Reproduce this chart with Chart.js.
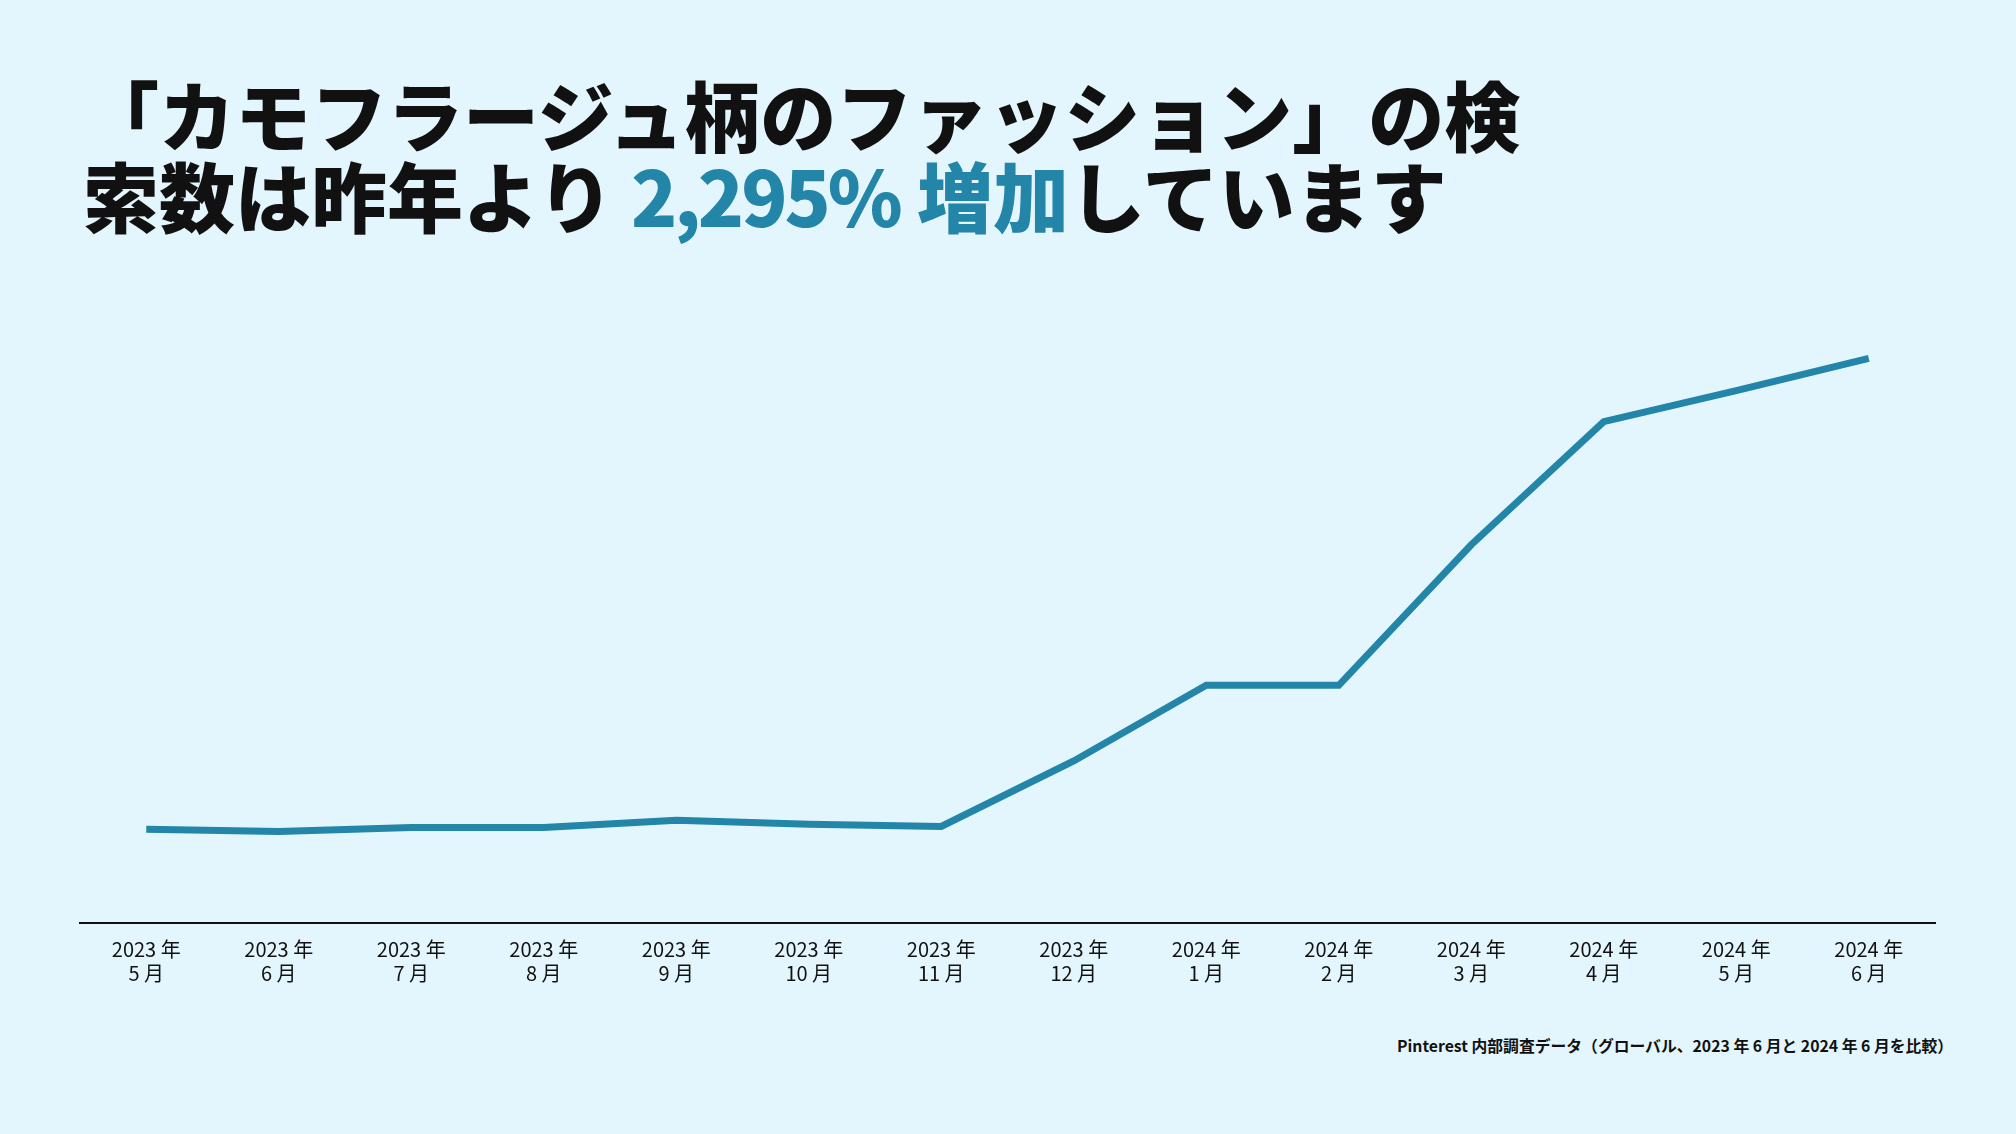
<!DOCTYPE html>
<html lang="ja">
<head>
<meta charset="utf-8">
<title>カモフラージュ柄のファッション 検索数</title>
<script src="https://cdn.jsdelivr.net/npm/chart.js@4.4.1/dist/chart.umd.min.js"></script>
<style>
    html, body {
        margin: 0;
        padding: 0;
        width: 2016px;
        height: 1134px;
        background: #e3f6fe;
        overflow: hidden;
        font-family: "Noto Sans CJK JP", "Noto Sans", sans-serif;
    }
    .headline {
        position: absolute;
        left: 83px;
        top: 73px;
        font-size: 76px;
        line-height: 81px;
        font-weight: 900;
        color: #111111;
        white-space: nowrap;
    }
    .headline .accent {
        color: #2385a8;
    }
    .headline .num {
        letter-spacing: -3px;
    }
    .chart-box {
        position: absolute;
        left: 0;
        top: 0;
        width: 2016px;
        height: 1000px;
    }
    .source {
        position: absolute;
        right: 63px;
        top: 1035px;
        font-size: 15.8px;
        line-height: 22px;
        font-weight: 700;
        color: #111111;
        white-space: nowrap;
    }
</style>
</head>
<body>
<div class="headline">「カモフラージュ柄のファッション」の検<br>索数は昨年より <span class="accent"><span class="num">2,295%</span> 増加</span>しています</div>
<div class="chart-box"><canvas id="searchChart"></canvas></div>
<div class="source">Pinterest 内部調査データ（グローバル、2023 年 6 月と 2024 年 6 月を比較）</div>

<script>
// Month labels (two lines each)
const years = ['2023 年', '2023 年', '2023 年', '2023 年', '2023 年', '2023 年', '2023 年',
               '2023 年', '2024 年', '2024 年', '2024 年', '2024 年', '2024 年', '2024 年'];
const months = ['5 月', '6 月', '7 月', '8 月', '9 月', '10 月', '11 月',
                '12 月', '1 月', '2 月', '3 月', '4 月', '5 月', '6 月'];

// Relative search volume (June 2024 = 100)
const searchIndex = [16.6, 16.2, 16.9, 16.9, 18.2, 17.5, 17.1,
                     28.7, 42.1, 42.1, 67.0, 88.8, 94.3, 100];

const lineColor = '#2385a8';

document.addEventListener('DOMContentLoaded', function () {
    const ctx = document.getElementById('searchChart').getContext('2d');
    const labels = years.map((y, i) => [y, months[i]]);

    new Chart(ctx, {
        type: 'line',
        data: {
            labels: labels,
            datasets: [{
                data: searchIndex,
                borderColor: lineColor,
                borderWidth: 7,
                pointRadius: 0,
                pointHoverRadius: 0,
                tension: 0,
                fill: false,
                borderJoinStyle: 'miter',
                borderCapStyle: 'butt'
            }]
        },
        options: {
            responsive: true,
            maintainAspectRatio: false,
            animation: false,
            layout: {
                padding: { left: 80, right: 81, top: 302, bottom: 1 }
            },
            plugins: {
                legend: { display: false },
                tooltip: { enabled: false }
            },
            scales: {
                x: {
                    offset: true,
                    grid: { display: false, drawTicks: false },
                    border: { display: true, color: '#111111', width: 2 },
                    ticks: {
                        color: '#111111',
                        padding: 14,
                        maxRotation: 0,
                        autoSkip: false,
                        font: { family: '"Noto Sans CJK JP", "Noto Sans", sans-serif', size: 20 },
                        lineHeight: 1.25
                    }
                },
                y: {
                    display: false,
                    min: 0,
                    max: 110
                }
            }
        }
    });
});
</script>
</body>
</html>
